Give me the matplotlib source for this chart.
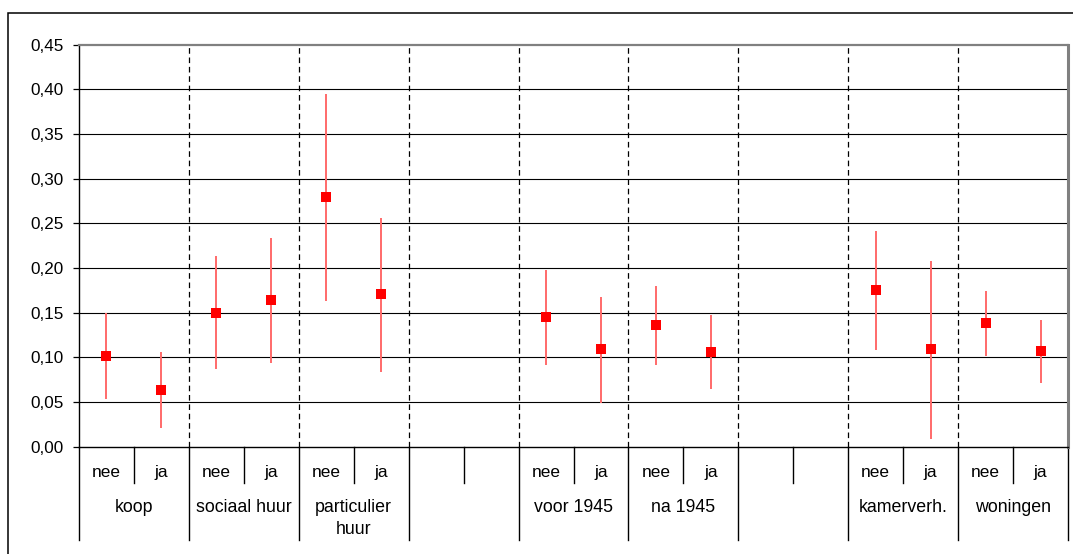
import matplotlib
matplotlib.use("Agg")
import matplotlib.pyplot as plt
from matplotlib.patches import Rectangle
from matplotlib.transforms import blended_transform_factory

plt.rcParams['font.family'] = ['Liberation Sans', 'DejaVu Sans']

# ---- data ----
groups = ["koop", "sociaal huur", "particulier\nhuur", "", "voor 1945", "na 1945",
          "", "kamerverh.", "woningen"]
sub_labels = ["nee", "ja", "nee", "ja", "nee", "ja", "", "", "nee", "ja", "nee", "ja",
              "", "", "nee", "ja", "nee", "ja"]
# values per slot (None = empty slot)
values = [0.102, 0.064, 0.150, 0.164, 0.279, 0.171, None, None, 0.145, 0.109,
          0.136, 0.106, None, None, 0.175, 0.109, 0.1385, 0.107]
upper = [0.150, 0.106, 0.2135, 0.234, 0.395, 0.256, None, None, 0.198, 0.168,
         0.180, 0.1474, None, None, 0.241, 0.208, 0.1746, 0.1415]
lower = [0.053, 0.0206, 0.0866, 0.0934, 0.163, 0.084, None, None, 0.0918, 0.049,
         0.0915, 0.0646, None, None, 0.108, 0.0083, 0.1015, 0.0713]
yticks = [0.00, 0.05, 0.10, 0.15, 0.20, 0.25, 0.30, 0.35, 0.40, 0.45]

W, H = 1073, 554
fig = plt.figure(figsize=(W / 100, H / 100), dpi=100)

# outer frame
fig.patches.append(Rectangle((8 / W, -0.1), 1.2, (H - 13) / H + 0.1,
                             transform=fig.transFigure, fill=False,
                             edgecolor='black', linewidth=1.1))

ax_l, ax_r, ax_t, ax_b = 79, 1068, 44.7, 446.7
ax = fig.add_axes([ax_l / W, (H - ax_b) / H, (ax_r - ax_l) / W, (ax_b - ax_t) / H])

n = len(sub_labels)
ax.set_xlim(0, n)
ax.set_ylim(0, 0.45)

# gridlines
for y in yticks[1:-1]:
    ax.axhline(y, color='black', linewidth=0.8, zorder=1)

# dashed group separators
for g in range(1, len(groups)):
    ax.axvline(2 * g, color='black', linewidth=0.9, linestyle=(0, (4.5, 3)), zorder=1)

# data
for i, (v, lo, hi) in enumerate(zip(values, lower, upper)):
    if v is None:
        continue
    x = i + 0.5
    ax.plot([x, x], [lo, hi], color='#ff6a6a', linewidth=1.4, zorder=2,
            solid_capstyle='butt')
    ax.plot([x], [v], marker='s', color='red', markersize=6.8, markeredgewidth=0,
            zorder=3)

# spines
ax.spines['left'].set_color('black')
ax.spines['left'].set_linewidth(1.0)
ax.spines['bottom'].set_color('black')
ax.spines['bottom'].set_linewidth(1.0)
ax.spines['top'].set_color('#808080')
ax.spines['top'].set_linewidth(1.6)
ax.spines['right'].set_color('#808080')
ax.spines['right'].set_linewidth(2.2)

ax.set_yticks(yticks)
ax.set_yticklabels([f"{t:.2f}".replace('.', ',') for t in yticks])
ax.tick_params(axis='y', direction='out', length=4.3, width=0.9, pad=7,
               labelsize=12.3, colors='black')
ax.set_xticks([])

# category table under the axis
tr = blended_transform_factory(ax.transData, ax.transAxes)
axh = ax_b - ax_t
def ya(ypix):
    return (ax_b - ypix) / axh

for g in range(len(groups) + 1):
    ax.plot([2 * g, 2 * g], [0, ya(540)], transform=tr, color='black',
            linewidth=1.0, clip_on=False)
for g in range(len(groups)):
    ax.plot([2 * g + 1, 2 * g + 1], [0, ya(483)], transform=tr, color='black',
            linewidth=1.0, clip_on=False)

for i, s in enumerate(sub_labels):
    if s:
        ax.text(i + 0.5, ya(472.5), s, transform=tr, ha='center', va='center',
                fontsize=12.5, clip_on=False)

for g, name in enumerate(groups):
    for k, line in enumerate(name.split('\n')):
        if line:
            ax.text(2 * g + 1, ya(508 + 22 * k), line, transform=tr, ha='center',
                    va='center', fontsize=12.8, clip_on=False)

fig.savefig("out.png", dpi=100)
